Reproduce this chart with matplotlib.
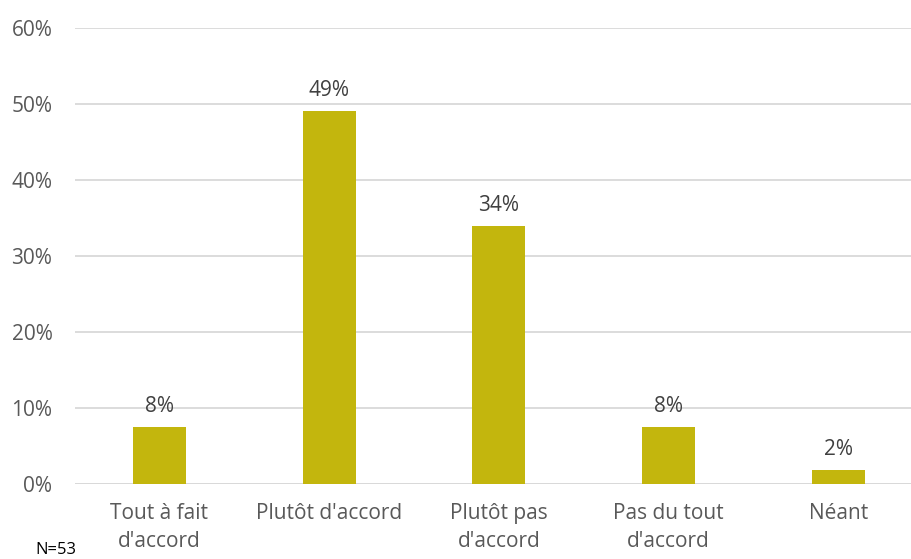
import matplotlib
matplotlib.use("Agg")
import matplotlib.pyplot as plt
from matplotlib.ticker import FuncFormatter

categories = ["Tout à fait\nd'accord", "Plutôt d'accord", "Plutôt pas\nd'accord", "Pas du tout\nd'accord", "Néant"]
values = [7.55, 49.06, 33.96, 7.55, 1.89]
labels = ["8%", "49%", "34%", "8%", "2%"]
yticks = [0, 10, 20, 30, 40, 50, 60]

plt.rcParams['font.family'] = ['Open Sans', 'DejaVu Sans']

W, H = 912, 559
fig = plt.figure(figsize=(W/100, H/100), dpi=100)
left, right = 74.6, 923.0
top, bottom = 28.0, 484.0
ax = fig.add_axes([left/W, 1 - bottom/H, (right-left)/W, (bottom-top)/H])

x = list(range(len(categories)))
ax.bar(x, values, width=0.312, color='#C3B60D', zorder=3)
for xi, v, l in zip(x, values, labels):
    ax.annotate(l, (xi, v), xytext=(0, 7), textcoords='offset points',
                ha='center', va='bottom', fontsize=15, color='#404040')

ax.set_xlim(-0.5, len(categories) - 0.5)
ax.set_ylim(0, 60)
ax.set_yticks(yticks)
ax.yaxis.set_major_formatter(FuncFormatter(lambda v, p: f"{int(v)}%"))
ax.set_xticks(x)
ax.set_xticklabels(categories, fontsize=15, color='#595959', linespacing=1.4)
ax.tick_params(axis='y', labelsize=15, labelcolor='#595959', length=0, pad=16)
ax.tick_params(axis='x', length=0, pad=14)
ax.grid(axis='y', color='#D9D9D9', linewidth=1.3, zorder=0)
for s in ax.spines.values():
    s.set_visible(False)
ax.axhline(0, color='#D9D9D9', linewidth=1.3, zorder=2)

fig.text(35/W, 1 - 558/H, "N=53", fontsize=12, color='black', va='bottom', ha='left')

fig.savefig("out.png", dpi=100)
